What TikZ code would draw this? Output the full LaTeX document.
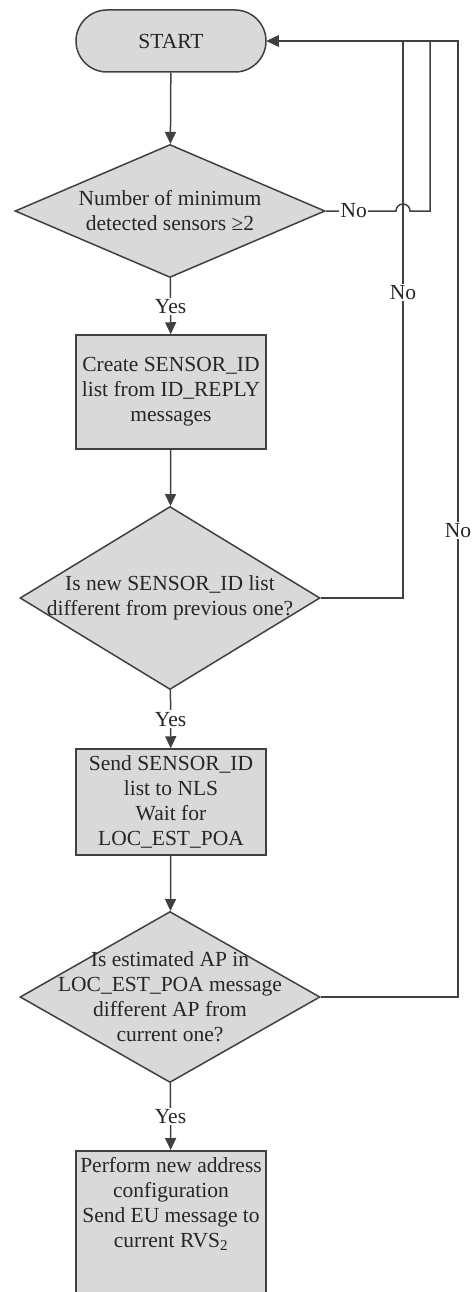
\documentclass[tikz,border=0pt]{standalone}
\usepackage{fontspec}
\setmainfont{Liberation Serif}
\usetikzlibrary{arrows.meta,calc,shapes.geometric}

\begin{document}
\begin{tikzpicture}[x=1pt,y=1pt,
  line/.style={draw=black!75,line width=1.5pt},
  flow/.style={line,-{Triangle[length=12pt,width=11pt]}},
  txt/.style={align=center,text=black!85,font=\fontsize{21.5}{25}\selectfont},
  term/.style={txt,line,fill=black!15,rounded corners=31pt,minimum width=190pt,minimum height=62pt},
  proc/.style={txt,line,fill=black!15,minimum width=190pt,inner sep=0pt},
  dec/.style={diamond,line,fill=black!15,inner sep=0pt},
  lbl/.style={txt,fill=white,inner sep=1.5pt},
]
\useasboundingbox (0,0) rectangle (473,-1292);

% main column
\node[term] (start) at (171,-41) {START};
\node[dec,minimum width=310pt,minimum height=133pt,
  label={[txt]center:Number of minimum\\detected sensors ≥2}] (d1) at (170,-211) {};
\node[proc,minimum height=114pt] (box1) at (171,-392)
  {Create SENSOR\_ID\\list from ID\_REPLY\\messages};
\node[dec,minimum width=300pt,minimum height=183pt,
  label={[txt]center:Is new SENSOR\_ID list\\different from previous one?}] (d2) at (170,-598) {};
\node[proc,minimum height=106pt] (box2) at (171,-802)
  {Send SENSOR\_ID\\list to NLS\\Wait for\\LOC\_EST\_POA};
\node[dec,minimum width=300pt,minimum height=171pt,
  label={[txt]center:Is estimated AP in\\LOC\_EST\_POA message\\different AP from\\current one?}] (d3) at (170,-997) {};
\node[proc,minimum height=160pt,anchor=north,
  label={[txt,anchor=north,yshift=-4pt]north:Perform new address\\configuration\\Send EU message to\\current RVS\textsubscript{2}}] (box3) at (171,-1150) {};

% return points on the top line
\coordinate (r1) at (430,-41);
\coordinate (r2) at (403,-41);
\coordinate (r3) at (458,-41);

% downward flow
\draw[flow] (start) -- (d1);
\draw[flow] (d1) -- node[lbl]{Yes} (box1);
\draw[flow] (box1) -- (d2);
\draw[flow] (d2) -- node[lbl]{Yes} (box2);
\draw[flow] (box2) -- (d3);
\draw[flow] (d3) -- node[lbl]{Yes} (box3);

% loops back to start
\draw[flow] (d3.east) -| node[lbl,pos=0.744]{No} (r3) -- (start.east);
\draw[flow] (d2.east) -| node[lbl,pos=0.774]{No} (r2) -- (start.east);
\draw[flow] (d1.east) -- node[lbl,pos=0.4]{No} ($(d1.east -| r2)+(-7,0)$)
  arc[start angle=180,end angle=0,radius=7] -| (r1) -- (start.east);

\end{tikzpicture}
\end{document}
